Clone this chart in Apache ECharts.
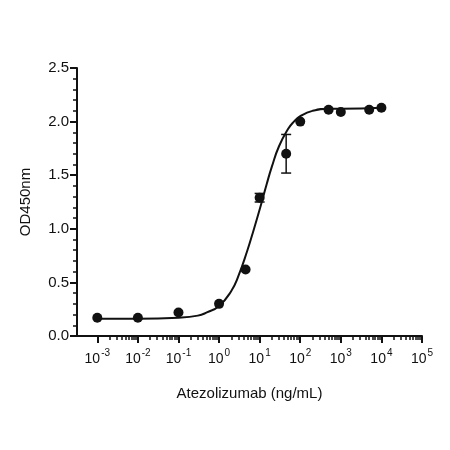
<!DOCTYPE html><html><head><meta charset="utf-8"><script src="https://cdn.jsdelivr.net/npm/echarts@6/dist/echarts.min.js"></script></head><body style="margin:0"><div id="c" style="width:450px;height:450px"></div><script>
const conc=[0.001,0.01,0.1,1,4.5,10,45,100,500,1000,5000,10000];
const od=[0.17,0.17,0.22,0.30,0.62,1.29,1.70,2.00,2.11,2.09,2.11,2.13];
const err=[0,0,0,0,0,0.04,0.18,0,0,0,0,0];
const curveX=[0.001,0.01,0.1,0.3,0.5,1,2,3,5,7,10,15,20,30,50,70,100,200,500,1000,10000];
const curveY=[0.16,0.16,0.17,0.19,0.22,0.28,0.42,0.56,0.80,0.98,1.18,1.42,1.58,1.77,1.93,2.00,2.05,2.10,2.12,2.12,2.13];
const decades=[-3,-2,-1,0,1,2,3,4,5];
const L=Math.log10;
const minor=[];decades.slice(0,-1).forEach(d=>{for(let k=2;k<10;k++)minor.push(d+L(k));});
const font='Liberation Sans';
const c=echarts.init(document.getElementById('c'));
c.setOption({animation:false,
grid:{left:77,right:28,top:68,bottom:114},
xAxis:[{type:'value',min:-3.5,max:5,name:'Atezolizumab (ng/mL)',nameLocation:'middle',nameGap:50,
nameTextStyle:{color:'#111',fontSize:15,fontFamily:font},
axisLine:{onZero:false,lineStyle:{color:'#111',width:2}},splitLine:{show:false},
axisTick:{customValues:decades,length:7,lineStyle:{color:'#111',width:2}},
axisLabel:{customValues:decades,margin:12,color:'#111',fontSize:14,fontFamily:font,
formatter:v=>'{b|10}{s|'+(v<0?'-':'')+Math.abs(v)+'}',
rich:{b:{fontSize:14,fontFamily:font,color:'#111',verticalAlign:'bottom'},s:{fontSize:10,fontFamily:font,color:'#111',verticalAlign:'top',padding:[0,0,8,1]}}}},
{type:'value',min:-3.5,max:5,position:'bottom',axisLine:{show:false,onZero:false},splitLine:{show:false},axisLabel:{show:false},
axisTick:{show:true,customValues:minor,length:4,lineStyle:{color:'#111',width:1.5}}}],
yAxis:{type:'value',min:0,max:2.5,interval:0.5,name:'OD450nm',nameLocation:'middle',nameGap:44,
nameTextStyle:{color:'#111',fontSize:15,fontFamily:font},
axisLine:{show:true,onZero:false,lineStyle:{color:'#111',width:2}},splitLine:{show:false},
axisTick:{show:true,length:7,lineStyle:{color:'#111',width:2}},
minorTick:{show:true,splitNumber:5,length:4,lineStyle:{color:'#111',width:1.5}},
axisLabel:{color:'#111',fontSize:15,fontFamily:font,formatter:v=>v.toFixed(1)}},
series:[
{type:'line',smooth:true,symbol:'none',data:curveX.map((x,i)=>[L(x),curveY[i]]),lineStyle:{color:'#111',width:2}},
{type:'custom',data:conc.map((x,i)=>[L(x),od[i],err[i]]),renderItem:(p,api)=>{
 const e=api.value(2);if(!e)return;const x=api.value(0),y=api.value(1);
 const a=api.coord([x,y+e]),b=api.coord([x,y-e]);
 return {type:'group',children:[
 {type:'line',shape:{x1:a[0],y1:a[1],x2:b[0],y2:b[1]},style:{stroke:'#111',lineWidth:1.5}},
 {type:'line',shape:{x1:a[0]-5,y1:a[1],x2:a[0]+5,y2:a[1]},style:{stroke:'#111',lineWidth:1.5}},
 {type:'line',shape:{x1:b[0]-5,y1:b[1],x2:b[0]+5,y2:b[1]},style:{stroke:'#111',lineWidth:1.5}}]};}},
{type:'scatter',data:conc.map((x,i)=>[L(x),od[i]]),symbolSize:10,itemStyle:{color:'#111',opacity:1},z:5}
]});
</script></body></html>
